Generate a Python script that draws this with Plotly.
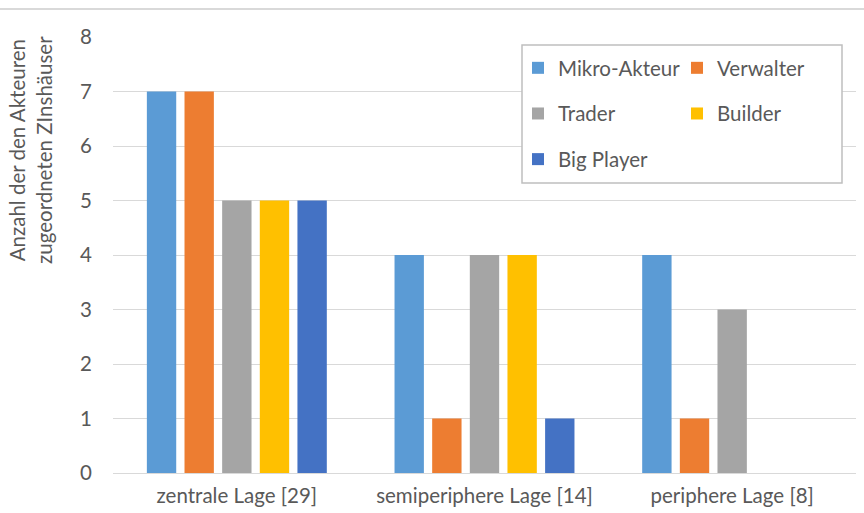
import plotly.graph_objects as go

categories = ["zentrale Lage [29]", "semiperiphere Lage [14]", "periphere Lage [8]"]
series_names = ["Mikro-Akteur", "Verwalter", "Trader", "Builder", "Big Player"]
mikro = [7, 4, 4]
verwalter = [7, 1, 1]
trader = [5, 4, 3]
builder = [5, 4, 0]
big_player = [5, 1, 0]
y_ticks = [0, 1, 2, 3, 4, 5, 6, 7, 8]
y_title = "Anzahl der den Akteuren<br>zugeordneten ZInshäuser"

colors = ["#5B9BD5", "#ED7D31", "#A5A5A5", "#FFC000", "#4472C4"]
values = [mikro, verwalter, trader, builder, big_player]
legend_ref = ["legend", "legend2", "legend", "legend2", "legend"]

FONT = "Lato"
FS = 20.5
TXT = "#595959"

fig = go.Figure()
for i, (name, vals) in enumerate(zip(series_names, values)):
    fig.add_trace(go.Bar(
        x=categories, y=vals, name=name,
        marker=dict(color=colors[i], line=dict(width=0)),
        legend=legend_ref[i], legendgroup=name,
    ))

W, H = 864, 513
PL, PR, PT, PB = 113, 856, 37, 473
PW, PH = PR - PL, PB - PT
common_legend = dict(
    xref="container", yref="container", xanchor="left", yanchor="top",
    orientation="v", tracegroupgap=16, bgcolor="rgba(0,0,0,0)",
    borderwidth=0, font=dict(family=FONT, size=FS, color=TXT),
    itemclick=False, itemdoubleclick=False,
)
fig.update_layout(
    width=W, height=H,
    margin=dict(l=PL, r=W - PR, t=PT, b=H - PB, autoexpand=False),
    paper_bgcolor="white", plot_bgcolor="white",
    barmode="group", bargap=0.24, bargroupgap=0.22,
    font=dict(family=FONT, size=FS, color=TXT),
    showlegend=True,
    legend=dict(x=518 / W, y=1 - 48 / H, **common_legend),
    legend2=dict(x=677 / W, y=1 - 48 / H, **common_legend),
    xaxis=dict(showgrid=False, showline=True, linecolor="#D9D9D9", linewidth=1,
               ticks="", tickangle=0, automargin=False, ticklabelstandoff=4,
               tickfont=dict(family=FONT, size=FS, color=TXT)),
    yaxis=dict(range=[0, 8], tickvals=y_ticks, showgrid=True, gridcolor="#D9D9D9",
               gridwidth=1, zeroline=False, showline=False, ticks="",
               ticklabelstandoff=20, automargin=False,
               tickfont=dict(family=FONT, size=FS, color=TXT)),
)
# legend frame
fig.add_shape(type="rect", xref="paper", yref="paper",
              x0=(522 - PL) / PW, x1=(842 - PL) / PW,
              y0=(PB - 183) / PH, y1=(PB - 45) / PH,
              line=dict(color="#BFBFBF", width=1.5), fillcolor="white", layer="above")
# chart top border line
fig.add_shape(type="line", xref="paper", yref="paper",
              x0=-PL / PW, x1=1 + (W - PR) / PW,
              y0=1 + 28 / PH, y1=1 + 28 / PH,
              line=dict(color="#D9D9D9", width=2))
# y-axis title
fig.add_annotation(text=y_title, xref="paper", yref="paper", textangle=-90,
                   x=-82 / PW, y=(PB - 150) / PH,
                   xanchor="center", yanchor="middle", showarrow=False,
                   font=dict(family=FONT, size=FS, color=TXT))

fig.write_html("out.html")
